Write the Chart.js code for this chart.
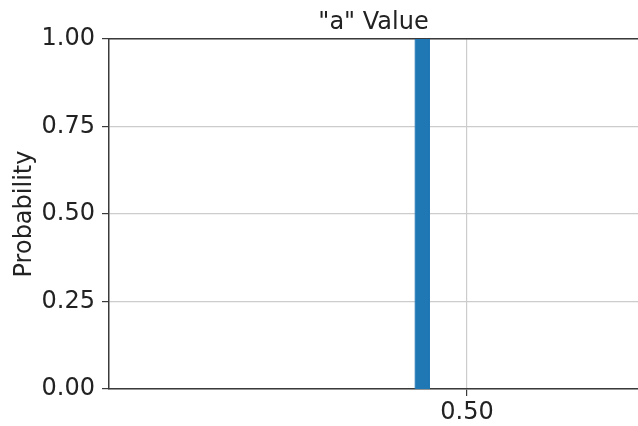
<!DOCTYPE html>
<html>
<head>
<meta charset="utf-8">
<script src="https://cdn.jsdelivr.net/npm/chart.js@4/dist/chart.umd.min.js"></script>
<style>
  html, body { margin: 0; padding: 0; background: #fff; }
  canvas { display: block; }
</style>
</head>
<body>
<canvas id="histChart" width="638" height="426"></canvas>
<script>
// histogram of "a" values: one bin holding everything
const binEdges = [0.463, 0.473];
const probs = [1];
const xLimits = [0.2443, 0.6221];
const xTicks = [0.5];
const yTicks = [0, 0.25, 0.5, 0.75, 1];

const FONT = 'DejaVu Sans';
const spineColor = '#3a3a3a';

// bar outline as step points, from bin edges
const histPoints = [];
probs.forEach((p, i) => {
  histPoints.push({ x: binEdges[i], y: 0 }, { x: binEdges[i], y: p },
                  { x: binEdges[i + 1], y: p }, { x: binEdges[i + 1], y: 0 });
});

new Chart(document.getElementById('histChart'), {
  type: 'scatter',
  data: {
    datasets: [{
      data: histPoints,
      showLine: true,
      fill: 'origin',
      backgroundColor: '#1f77b4',
      borderColor: '#1f77b4',
      borderWidth: 1,
      pointRadius: 0,
      tension: 0
    }]
  },
  options: {
    responsive: false,
    animation: false,
    layout: { padding: 0 },
    plugins: {
      legend: { display: false },
      tooltip: { enabled: false }
    },
    scales: {
      x: {
        type: 'linear',
        min: xLimits[0],
        max: xLimits[1],
        afterBuildTicks: s => { s.ticks = xTicks.map(v => ({ value: v })); },
        afterFit: s => { s.height = 37; },
        grid: { color: '#cccccc', lineWidth: 1.2, tickLength: 7, tickColor: spineColor },
        border: { color: spineColor, width: 1.5 },
        ticks: {
          color: '#222', padding: 2, maxRotation: 0,
          font: { family: FONT, size: 24 },
          callback: v => v.toFixed(2)
        }
      },
      // top axis only carries the title and the top spine
      xTop: {
        type: 'linear',
        position: 'top',
        min: xLimits[0],
        max: xLimits[1],
        afterFit: s => { s.height = 39; },
        grid: { display: false },
        border: { display: true, color: spineColor, width: 1.5 },
        ticks: { display: false },
        title: {
          display: true,
          text: '"a" Value',
          color: '#222',
          font: { family: FONT, size: 24 },
          padding: { top: 8, bottom: 0 }
        }
      },
      y: {
        min: 0,
        max: 1,
        afterBuildTicks: s => { s.ticks = yTicks.map(v => ({ value: v })); },
        afterFit: s => { s.width = 109; },
        grid: { color: '#cccccc', lineWidth: 1.2, tickLength: 7, tickColor: spineColor },
        border: { color: spineColor, width: 1.5 },
        title: {
          display: true,
          text: 'Probability',
          color: '#222',
          font: { family: FONT, size: 24 },
          padding: { top: 10, bottom: 0 }
        },
        ticks: {
          color: '#222', padding: 7,
          font: { family: FONT, size: 24 },
          callback: v => v.toFixed(2)
        }
      }
    }
  }
});
</script>
</body>
</html>
